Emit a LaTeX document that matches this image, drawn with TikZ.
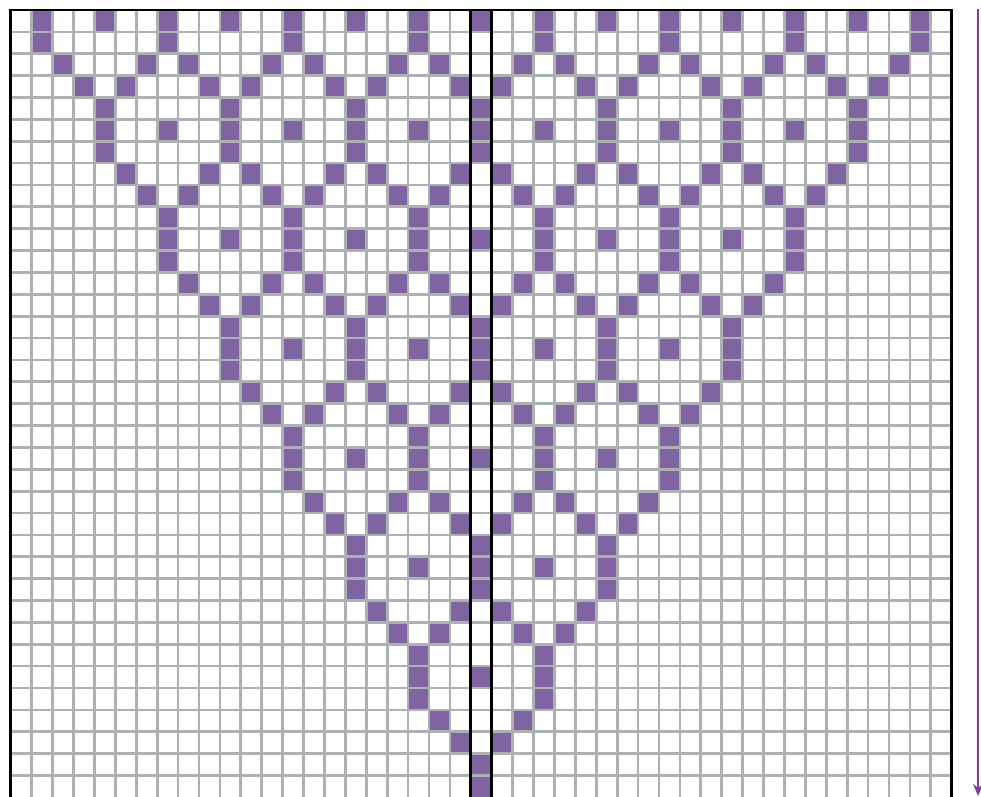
\documentclass[tikz,border=0pt]{standalone}
\usepackage{tikz}
\usetikzlibrary{arrows.meta}
\definecolor{caviolet}{HTML}{8064A2}
\definecolor{cagrey}{HTML}{AEB1B4}
\definecolor{catime}{HTML}{8B37A0}
\tikzset{
  cell/.style={fill=caviolet},
  gridline/.style={draw=cagrey,line width=1.35pt},
  frame/.style={draw=black,line width=1.45pt},
  timearrow/.style={-{Stealth[length=6pt,width=5pt]},line width=1pt,catime},
}

\begin{document}
\begin{tikzpicture}[x=10.455pt,y=-10.935pt]
    \useasboundingbox (-0.5165,-0.4572) rectangle (46.399,35.94);
    \begin{scope}
      \clip (0,0) rectangle (45,36);
      % blocks of three rows: upright bars, dots in the middle row
      \foreach \k in {0,...,7}{
        \pgfmathtruncatemacro\t{34-5*\k}
        \foreach \j in {0,...,\k}{
          \pgfmathtruncatemacro\v{22-3*\k+6*\j}
          \fill[cell] (\v,\t) rectangle ++(1,3);
          \ifnum\j>0
            \fill[cell] (\v-3,\t+1) rectangle ++(1,1);
          \fi
          % two diagonal rows above the block
          \ifnum\k<7
            \fill[cell] (\v-1,\t-1) rectangle ++(1,1);
            \fill[cell] (\v+1,\t-1) rectangle ++(1,1);
            \fill[cell] (\v-2,\t-2) rectangle ++(1,1);
            \fill[cell] (\v+2,\t-2) rectangle ++(1,1);
          \fi
        }
      }
      \foreach \i in {1,...,44}
        \draw[gridline] (\i,0) -- (\i,36);
      \foreach \r in {1,...,35}
        \draw[gridline] (0,\r) -- (45,\r);
    \end{scope}
    \draw[frame] (0,36) -- (0,0) -- (45,0) -- (45,36);
    \draw[frame] (22,0) -- (22,36);
    \draw[frame] (23,0) -- (23,36);
    \coordinate (tstart) at (46.26,-0.05);
    \coordinate (tend) at (46.26,35.94);
    \draw[timearrow] (tstart) -- (tend);
  \end{tikzpicture}
\end{document}
